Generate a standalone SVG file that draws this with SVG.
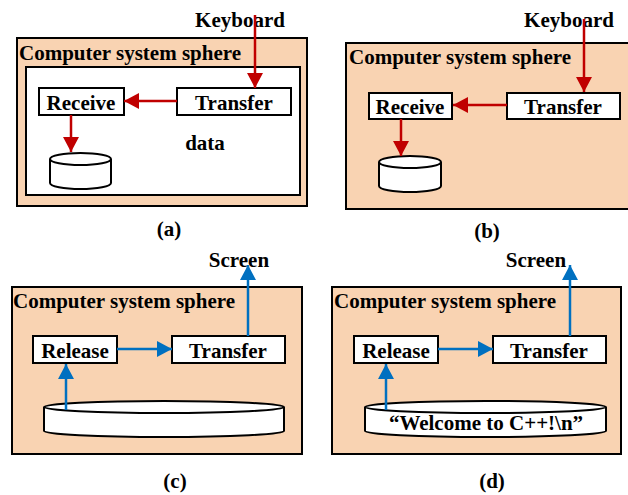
<svg xmlns="http://www.w3.org/2000/svg" width="628" height="495" viewBox="0 0 628 495">
<style>
text{font-family:"Liberation Serif","Times New Roman",serif;font-weight:bold;fill:#000}
.t{font-size:21px}
.m{text-anchor:middle}
.sphere{fill:#F9D3B2;stroke:#000;stroke-width:2}
.box{fill:#fff;stroke:#000;stroke-width:2}
.red{stroke:#C00000;stroke-width:2.5;fill:none}
.blue{stroke:#0070C0;stroke-width:2.5;fill:none}
.cyl{fill:#fff;stroke:#000;stroke-width:2}
</style>
<defs>
<marker id="ar" markerUnits="userSpaceOnUse" markerWidth="16" markerHeight="16" refX="15" refY="8" orient="auto"><path d="M0,0 L15,8 L0,16 Z" fill="#C00000"/></marker>
<marker id="ab" markerUnits="userSpaceOnUse" markerWidth="16" markerHeight="16" refX="15" refY="8" orient="auto"><path d="M0,0 L15,8 L0,16 Z" fill="#0070C0"/></marker>
</defs>

<!-- Panel (a) -->
<g id="sphere-a">
<rect class="sphere" x="17" y="38" width="290" height="168"/>
<rect class="box" x="26" y="67" width="274" height="128"/>
<text class="t" x="19" y="60">Computer system sphere</text>
</g>
<g id="keyboard-a"><text class="t m" x="240" y="27">Keyboard</text></g>
<g id="transfer-a"><rect class="box" x="177" y="88" width="114" height="27"/><text class="t m" x="234" y="110">Transfer</text></g>
<g id="receive-a"><rect class="box" x="39" y="88" width="85" height="27"/><text class="t m" x="81" y="110">Receive</text></g>
<g id="disk-a">
<path class="cyl" d="M50,159 L50,183 A30.5,6 0 0 0 111,183 L111,159"/>
<ellipse class="cyl" cx="80.5" cy="159" rx="30.5" ry="6"/>
</g>
<g id="data-a"><text class="t m" x="205" y="150">data</text></g>
<text class="t m" x="169" y="236">(a)</text>

<!-- Panel (b) -->
<g id="sphere-b">
<rect class="sphere" x="346" y="43" width="290" height="166"/>
<text class="t" x="349" y="64">Computer system sphere</text>
</g>
<g id="keyboard-b"><text class="t m" x="569" y="27">Keyboard</text></g>
<g id="transfer-b"><rect class="box" x="507" y="93" width="113" height="26"/><text class="t m" x="563" y="114">Transfer</text></g>
<g id="receive-b"><rect class="box" x="369" y="93" width="83" height="26"/><text class="t m" x="410" y="114">Receive</text></g>
<g id="disk-b">
<path class="cyl" d="M379,162 L379,186 A31,6 0 0 0 441,186 L441,162"/>
<ellipse class="cyl" cx="410" cy="162" rx="31" ry="6"/>
</g>
<text class="t m" x="487" y="238">(b)</text>

<!-- Panel (c) -->
<g id="sphere-c">
<rect class="sphere" x="12" y="287" width="290" height="167"/>
<text class="t" x="13" y="308">Computer system sphere</text>
</g>
<g id="screen-c"><text class="t m" x="239" y="267">Screen</text></g>
<g id="release-c"><rect class="box" x="33" y="336" width="84" height="27"/><text class="t m" x="75" y="358">Release</text></g>
<g id="transfer-c"><rect class="box" x="172" y="336" width="113" height="27"/><text class="t m" x="228" y="358">Transfer</text></g>
<g id="disk-c">
<path class="cyl" d="M44,407 L44,431 A120,6 0 0 0 284,431 L284,407"/>
<ellipse class="cyl" cx="164" cy="407" rx="120" ry="6"/>
</g>
<text class="t m" x="175" y="488">(c)</text>

<!-- Panel (d) -->
<g id="sphere-d">
<rect class="sphere" x="332" y="287" width="289" height="167"/>
<text class="t" x="334" y="308">Computer system sphere</text>
</g>
<g id="screen-d"><text class="t m" x="536" y="267">Screen</text></g>
<g id="release-d"><rect class="box" x="354" y="336" width="84" height="27"/><text class="t m" x="396" y="358">Release</text></g>
<g id="transfer-d"><rect class="box" x="493" y="336" width="113" height="27"/><text class="t m" x="549" y="358">Transfer</text></g>
<g id="disk-d">
<path class="cyl" d="M365,407 L365,431 A120.5,6 0 0 0 606,431 L606,407"/>
<ellipse class="cyl" cx="485.5" cy="407" rx="120.5" ry="6"/>
<text class="t m" x="486" y="430">“Welcome to C++!\n”</text>
</g>
<text class="t m" x="492" y="488">(d)</text>

<!-- Connectors -->
<g id="connectors">
<line class="red" x1="255" y1="15" x2="255" y2="88" marker-end="url(#ar)"/>
<line class="red" x1="177" y1="101" x2="124" y2="101" marker-end="url(#ar)"/>
<line class="red" x1="71" y1="115" x2="71" y2="152" marker-end="url(#ar)"/>
<line class="red" x1="584" y1="19" x2="584" y2="92" marker-end="url(#ar)"/>
<line class="red" x1="507" y1="105" x2="453" y2="105" marker-end="url(#ar)"/>
<line class="red" x1="401" y1="119" x2="401" y2="156" marker-end="url(#ar)"/>
<line class="blue" x1="248" y1="336" x2="248" y2="265" marker-end="url(#ab)"/>
<line class="blue" x1="117" y1="349" x2="172" y2="349" marker-end="url(#ab)"/>
<line class="blue" x1="66" y1="410" x2="66" y2="364" marker-end="url(#ab)"/>
<line class="blue" x1="570" y1="336" x2="570" y2="265" marker-end="url(#ab)"/>
<line class="blue" x1="438" y1="349" x2="493" y2="349" marker-end="url(#ab)"/>
<line class="blue" x1="386" y1="410" x2="386" y2="364" marker-end="url(#ab)"/>
</g>
</svg>
